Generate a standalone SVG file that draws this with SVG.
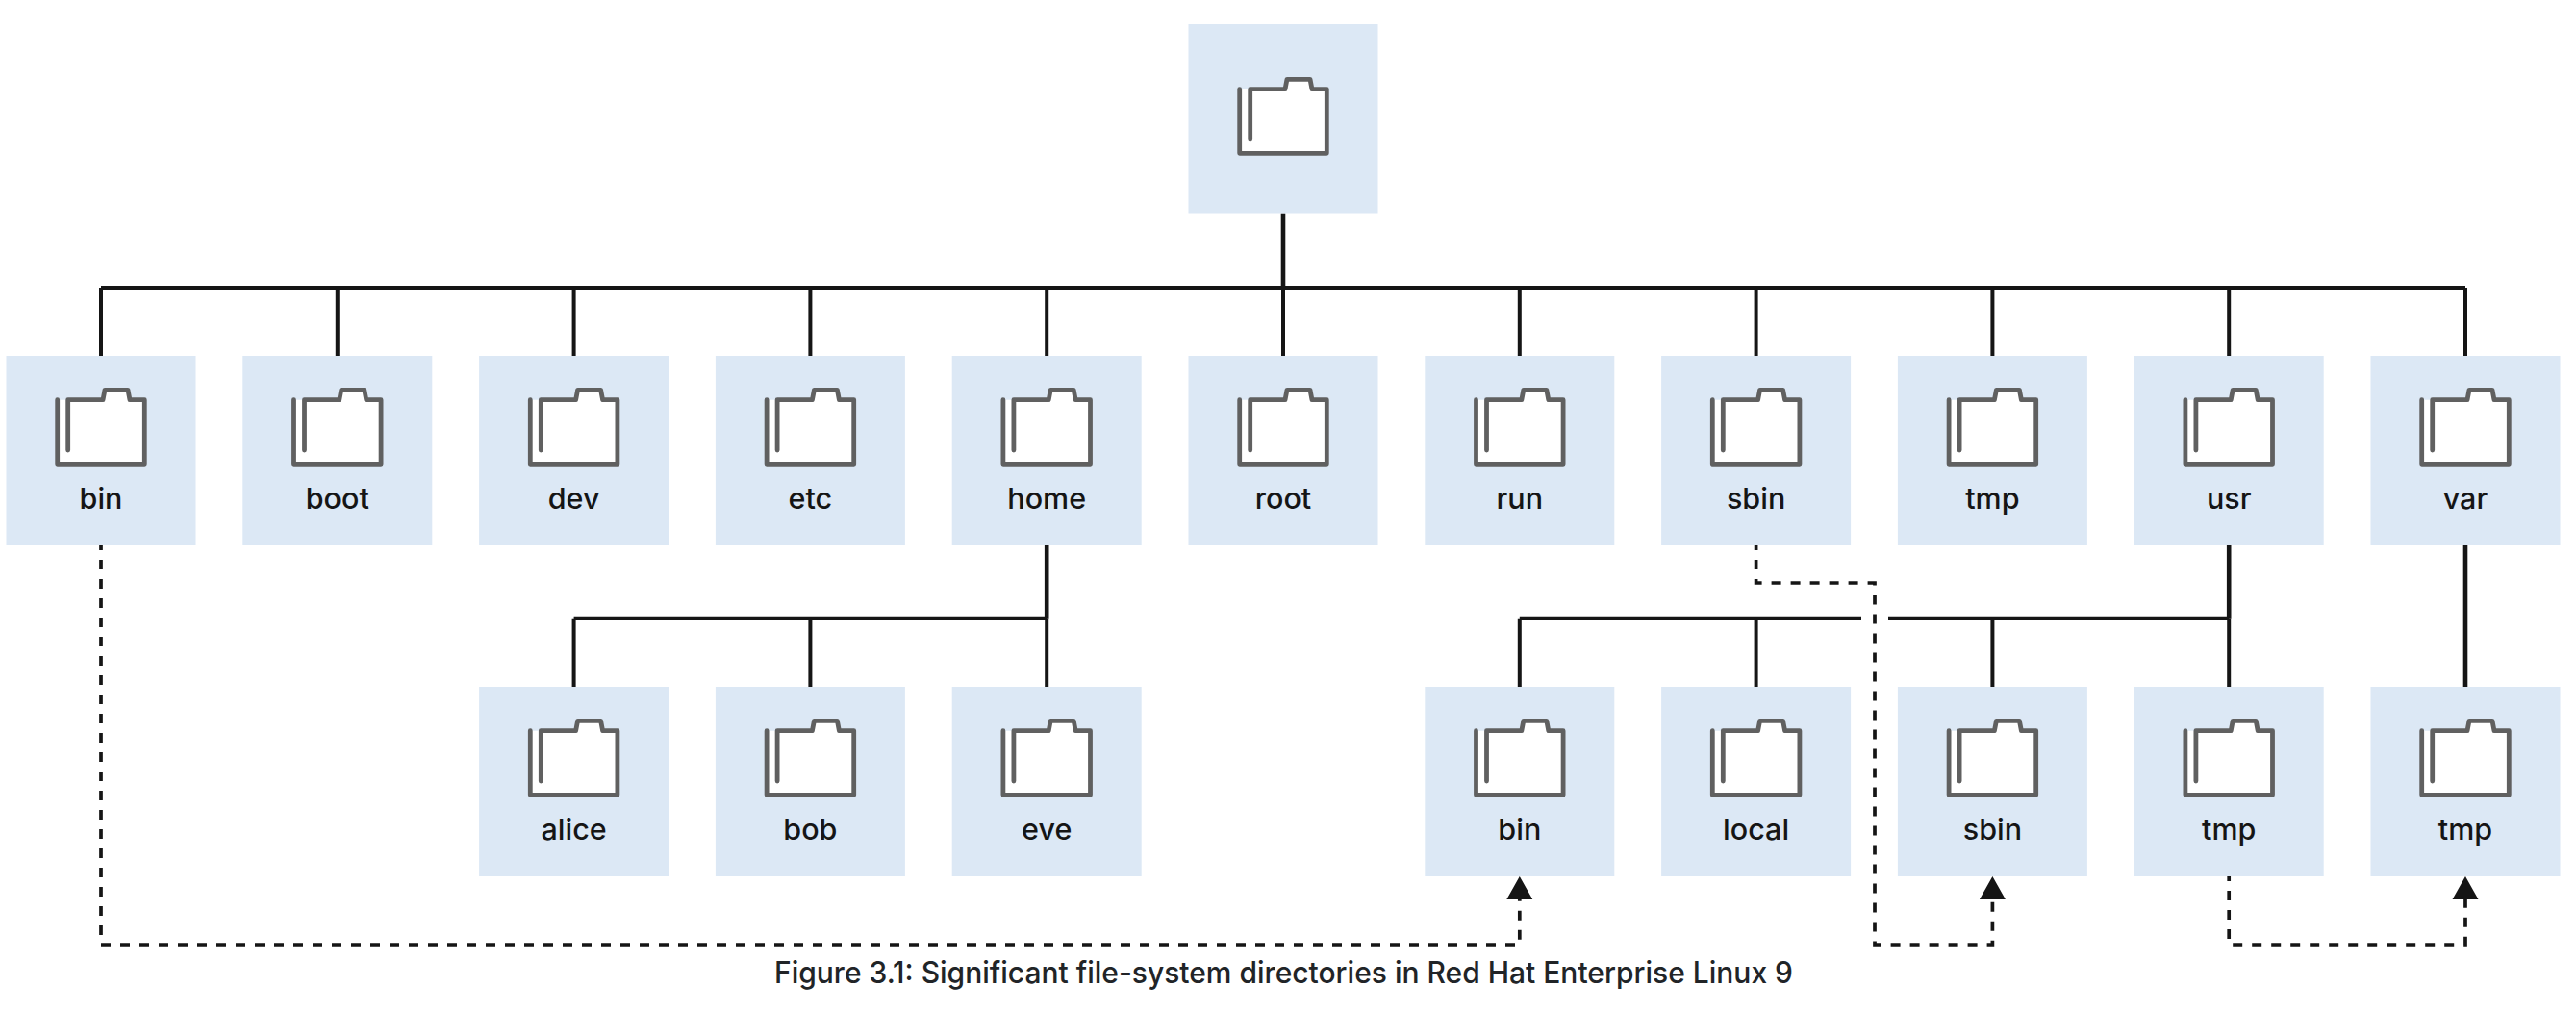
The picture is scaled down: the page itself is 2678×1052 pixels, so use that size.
<svg xmlns="http://www.w3.org/2000/svg" width="2678" height="1052" viewBox="0 0 2678 1052">
<style>
.box{fill:#dce8f5}
.lbl{font-family:"Inter","Noto Sans",sans-serif;font-size:30.5px;font-weight:500;fill:#151515;text-anchor:middle}
.cap{font-family:"Inter","Noto Sans",sans-serif;font-size:31.5px;font-weight:500;fill:#212427}
.s{fill:none;stroke:#151515;stroke-width:4}
.t{fill:none;stroke:#151515;stroke-width:4.6}
.d{fill:none;stroke:#151515;stroke-width:3.7;stroke-dasharray:10 10;stroke-dashoffset:5}
.w{fill:#fff}
.h{fill:none;stroke:#606060;stroke-width:4.8;stroke-linejoin:round;stroke-linecap:round}
</style>
<defs>
<g id="folder">
<path class="w" d="M-45.3 0V66.6H45.3V0H30L28-10.4H4L2 0Z"/>
<path class="h" d="M-45.3 0V66.6H45.3V0H30L28-10.4H4L2 0H-34.3V52.3"/>
</g>
</defs>
<rect width="2678" height="1052" fill="#fff"/>
<g id="connectors">
<path class="s" d="M105 299H2563M105 299V370M350.8 299V370M596.6 299V370M842.4 299V370M1088.2 299V370M1334 299V370M1579.8 299V370M1825.6 299V370M2071.4 299V370M2317.2 299V370M2563 299V370"/>
<path class="t" d="M1334 221.5V299M1088.2 567V642.7M2317.2 567V642.7M2563 567V714"/>
<path class="s" d="M1088.2 642.7V714M596.6 642.7H1088.2M596.6 642.7V714M842.4 642.7V714"/>
<path class="s" d="M2317.2 642.7V714M1579.8 642.7H1935M1963 642.7H2317.2M1579.8 642.7V714M1825.6 642.7V714M2071.4 642.7V714"/>
<path class="d" d="M105 567V982H1579.8V934"/>
<path class="d" d="M1825.6 567V606H1949V982H2071.4V934"/>
<path class="d" d="M2317.2 911V982H2563V934"/>
<path d="M1579.8 911L1593.3 935H1566.3Z M2071.4 911L2084.9 935H2057.9Z M2563 911L2576.5 935H2549.5Z" fill="#151515"/>
</g>
<g id="node-root"><rect class="box" x="1235.5" y="25" width="197" height="196.5"/><use href="#folder" x="1334" y="92.7"/></g>
<g id="node-bin"><rect class="box" x="6.5" y="370" width="197" height="197"/><use href="#folder" x="105" y="415.7"/><text class="lbl" x="105" y="529">bin</text></g>
<g id="node-boot"><rect class="box" x="252.3" y="370" width="197" height="197"/><use href="#folder" x="350.8" y="415.7"/><text class="lbl" x="350.8" y="529">boot</text></g>
<g id="node-dev"><rect class="box" x="498.1" y="370" width="197" height="197"/><use href="#folder" x="596.6" y="415.7"/><text class="lbl" x="596.6" y="529">dev</text></g>
<g id="node-etc"><rect class="box" x="743.9" y="370" width="197" height="197"/><use href="#folder" x="842.4" y="415.7"/><text class="lbl" x="842.4" y="529">etc</text></g>
<g id="node-home"><rect class="box" x="989.7" y="370" width="197" height="197"/><use href="#folder" x="1088.2" y="415.7"/><text class="lbl" x="1088.2" y="529">home</text></g>
<g id="node-rootdir"><rect class="box" x="1235.5" y="370" width="197" height="197"/><use href="#folder" x="1334" y="415.7"/><text class="lbl" x="1334" y="529">root</text></g>
<g id="node-run"><rect class="box" x="1481.3" y="370" width="197" height="197"/><use href="#folder" x="1579.8" y="415.7"/><text class="lbl" x="1579.8" y="529">run</text></g>
<g id="node-sbin"><rect class="box" x="1727.1" y="370" width="197" height="197"/><use href="#folder" x="1825.6" y="415.7"/><text class="lbl" x="1825.6" y="529">sbin</text></g>
<g id="node-tmp"><rect class="box" x="1972.9" y="370" width="197" height="197"/><use href="#folder" x="2071.4" y="415.7"/><text class="lbl" x="2071.4" y="529">tmp</text></g>
<g id="node-usr"><rect class="box" x="2218.7" y="370" width="197" height="197"/><use href="#folder" x="2317.2" y="415.7"/><text class="lbl" x="2317.2" y="529">usr</text></g>
<g id="node-var"><rect class="box" x="2464.5" y="370" width="197" height="197"/><use href="#folder" x="2563" y="415.7"/><text class="lbl" x="2563" y="529">var</text></g>
<g id="node-alice"><rect class="box" x="498.1" y="714" width="197" height="197"/><use href="#folder" x="596.6" y="759.7"/><text class="lbl" x="596.6" y="873">alice</text></g>
<g id="node-bob"><rect class="box" x="743.9" y="714" width="197" height="197"/><use href="#folder" x="842.4" y="759.7"/><text class="lbl" x="842.4" y="873">bob</text></g>
<g id="node-eve"><rect class="box" x="989.7" y="714" width="197" height="197"/><use href="#folder" x="1088.2" y="759.7"/><text class="lbl" x="1088.2" y="873">eve</text></g>
<g id="node-usr-bin"><rect class="box" x="1481.3" y="714" width="197" height="197"/><use href="#folder" x="1579.8" y="759.7"/><text class="lbl" x="1579.8" y="873">bin</text></g>
<g id="node-usr-local"><rect class="box" x="1727.1" y="714" width="197" height="197"/><use href="#folder" x="1825.6" y="759.7"/><text class="lbl" x="1825.6" y="873">local</text></g>
<g id="node-usr-sbin"><rect class="box" x="1972.9" y="714" width="197" height="197"/><use href="#folder" x="2071.4" y="759.7"/><text class="lbl" x="2071.4" y="873">sbin</text></g>
<g id="node-usr-tmp"><rect class="box" x="2218.7" y="714" width="197" height="197"/><use href="#folder" x="2317.2" y="759.7"/><text class="lbl" x="2317.2" y="873">tmp</text></g>
<g id="node-var-tmp"><rect class="box" x="2464.5" y="714" width="197" height="197"/><use href="#folder" x="2563" y="759.7"/><text class="lbl" x="2563" y="873">tmp</text></g>
<text class="cap" x="805" y="1022" textLength="1059" lengthAdjust="spacingAndGlyphs">Figure 3.1: Significant file-system directories in Red Hat Enterprise Linux 9</text>
</svg>
